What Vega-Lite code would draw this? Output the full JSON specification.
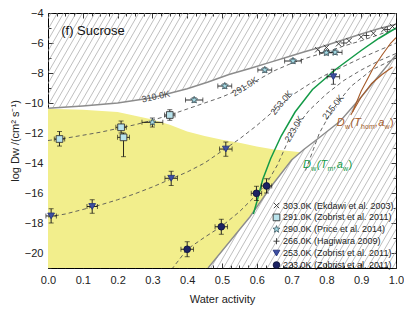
{
  "$schema": "https://vega.github.io/schema/vega-lite/v6.json",
  "width": 348,
  "height": 255,
  "autosize": {"type": "none"},
  "padding": {"left": 48, "top": 13, "right": 8, "bottom": 41},
  "background": "white",
  "config": {
    "view": {"stroke": "#000", "strokeWidth": 1},
    "font": "Liberation Sans",
    "axis": {"domain": false, "grid": false, "tickColor": "#222", "tickWidth": 0.9, "labelColor": "#222", "titleColor": "#222", "labelFont": "Liberation Sans", "titleFont": "Liberation Sans", "labelFontSize": 11, "titleFontSize": 11, "titleFontWeight": "normal", "labelFlush": false, "labelOverlap": false, "zindex": 1}
  },
  "resolve": {"axis": {"x": "independent", "y": "independent"}},
  "datasets": {
    "hatch": [
      {"a": -0.432, "b": -0.009}, {"a": -0.414, "b": 0.009}, {"a": -0.396, "b": 0.027}, {"a": -0.378, "b": 0.045}, {"a": -0.36, "b": 0.063}, {"a": -0.342, "b": 0.081}, {"a": -0.324, "b": 0.099}, {"a": -0.306, "b": 0.117}, {"a": -0.288, "b": 0.135}, {"a": -0.27, "b": 0.153},
      {"a": -0.252, "b": 0.171}, {"a": -0.234, "b": 0.189}, {"a": -0.216, "b": 0.207}, {"a": -0.198, "b": 0.225}, {"a": -0.18, "b": 0.243}, {"a": -0.162, "b": 0.261}, {"a": -0.144, "b": 0.279}, {"a": -0.126, "b": 0.297}, {"a": -0.108, "b": 0.315}, {"a": -0.09, "b": 0.333},
      {"a": -0.072, "b": 0.351}, {"a": -0.054, "b": 0.369}, {"a": -0.036, "b": 0.387}, {"a": -0.018, "b": 0.405}, {"a": 0.0, "b": 0.423}, {"a": 0.018, "b": 0.441}, {"a": 0.036, "b": 0.459}, {"a": 0.054, "b": 0.477}, {"a": 0.072, "b": 0.495}, {"a": 0.09, "b": 0.513},
      {"a": 0.108, "b": 0.531}, {"a": 0.126, "b": 0.549}, {"a": 0.144, "b": 0.567}, {"a": 0.162, "b": 0.585}, {"a": 0.18, "b": 0.603}, {"a": 0.198, "b": 0.621}, {"a": 0.216, "b": 0.639}, {"a": 0.234, "b": 0.657}, {"a": 0.252, "b": 0.675}, {"a": 0.27, "b": 0.693},
      {"a": 0.288, "b": 0.711}, {"a": 0.306, "b": 0.729}, {"a": 0.324, "b": 0.747}, {"a": 0.342, "b": 0.765}, {"a": 0.36, "b": 0.783}, {"a": 0.378, "b": 0.801}, {"a": 0.396, "b": 0.819}, {"a": 0.414, "b": 0.837}, {"a": 0.432, "b": 0.855}, {"a": 0.45, "b": 0.873},
      {"a": 0.468, "b": 0.891}, {"a": 0.486, "b": 0.909}, {"a": 0.504, "b": 0.927}, {"a": 0.522, "b": 0.945}, {"a": 0.54, "b": 0.963}, {"a": 0.558, "b": 0.981}, {"a": 0.576, "b": 0.999}, {"a": 0.594, "b": 1.017}, {"a": 0.612, "b": 1.035}, {"a": 0.63, "b": 1.053},
      {"a": 0.648, "b": 1.071}, {"a": 0.666, "b": 1.089}, {"a": 0.684, "b": 1.107}, {"a": 0.702, "b": 1.125}, {"a": 0.72, "b": 1.143}, {"a": 0.738, "b": 1.161}, {"a": 0.756, "b": 1.179}, {"a": 0.774, "b": 1.197}, {"a": 0.792, "b": 1.215}, {"a": 0.81, "b": 1.233},
      {"a": 0.828, "b": 1.251}, {"a": 0.846, "b": 1.269}, {"a": 0.864, "b": 1.287}, {"a": 0.882, "b": 1.305}, {"a": 0.9, "b": 1.323}, {"a": 0.918, "b": 1.341}, {"a": 0.936, "b": 1.359}, {"a": 0.954, "b": 1.377}, {"a": 0.972, "b": 1.395}, {"a": 0.99, "b": 1.413}
    ],
    "white": [
      {"x": 0, "u": -10.35, "l": -21}, {"x": 0.1, "u": -10.2, "l": -21}, {"x": 0.2, "u": -10.0, "l": -21}, {"x": 0.3, "u": -9.65, "l": -21}, {"x": 0.4, "u": -9.05, "l": -21}, {"x": 0.46, "u": -8.6, "l": -21},
      {"x": 0.52, "u": -8.1, "l": -19.3}, {"x": 0.58, "u": -7.7, "l": -17.6}, {"x": 0.64, "u": -7.27, "l": -15.6}, {"x": 0.7, "u": -6.85, "l": -13.8}, {"x": 0.735, "u": -6.6, "l": -13.1}, {"x": 0.78, "u": -6.3, "l": -12.3},
      {"x": 0.84, "u": -5.85, "l": -11.2}, {"x": 0.9, "u": -5.4, "l": -9.6}, {"x": 0.95, "u": -5.05, "l": -8.2}, {"x": 1.0, "u": -4.75, "l": -6.8}
    ],
    "yellow": [
      {"x": 0, "t": -10.38, "b": -21}, {"x": 0.1, "t": -10.45, "b": -21}, {"x": 0.2, "t": -10.6, "b": -21}, {"x": 0.25, "t": -10.85, "b": -21}, {"x": 0.3, "t": -11.1, "b": -21}, {"x": 0.35, "t": -11.45, "b": -21},
      {"x": 0.4, "t": -11.9, "b": -21}, {"x": 0.45, "t": -12.2, "b": -21}, {"x": 0.46, "t": -12.25, "b": -21}, {"x": 0.5, "t": -12.45, "b": -19.87}, {"x": 0.55, "t": -12.65, "b": -18.45}, {"x": 0.6, "t": -12.9, "b": -16.93},
      {"x": 0.65, "t": -13.1, "b": -15.3}, {"x": 0.7, "t": -13.22, "b": -13.8}, {"x": 0.726, "t": -13.28, "b": -13.28}
    ],
    "curves": [
      {"c": "up", "x": 0, "y": -10.35}, {"c": "up", "x": 0.1, "y": -10.2}, {"c": "up", "x": 0.2, "y": -10.0}, {"c": "up", "x": 0.3, "y": -9.65}, {"c": "up", "x": 0.4, "y": -9.05}, {"c": "up", "x": 0.46, "y": -8.6}, {"c": "up", "x": 0.52, "y": -8.1}, {"c": "up", "x": 0.58, "y": -7.7}, {"c": "up", "x": 0.64, "y": -7.27}, {"c": "up", "x": 0.7, "y": -6.85}, {"c": "up", "x": 0.735, "y": -6.6}, {"c": "up", "x": 0.78, "y": -6.3}, {"c": "up", "x": 0.84, "y": -5.85}, {"c": "up", "x": 0.9, "y": -5.4}, {"c": "up", "x": 0.95, "y": -5.05}, {"c": "up", "x": 1.0, "y": -4.75},
      {"c": "lo", "x": 0.46, "y": -21}, {"c": "lo", "x": 0.52, "y": -19.3}, {"c": "lo", "x": 0.58, "y": -17.6}, {"c": "lo", "x": 0.64, "y": -15.6}, {"c": "lo", "x": 0.7, "y": -13.8}, {"c": "lo", "x": 0.735, "y": -13.1}, {"c": "lo", "x": 0.78, "y": -12.3}, {"c": "lo", "x": 0.84, "y": -11.2}, {"c": "lo", "x": 0.9, "y": -9.6}, {"c": "lo", "x": 0.95, "y": -8.2}, {"c": "lo", "x": 1.0, "y": -6.8},
      {"c": "k291", "x": 0, "y": -12.5}, {"c": "k291", "x": 0.05, "y": -12.35}, {"c": "k291", "x": 0.1, "y": -12.15}, {"c": "k291", "x": 0.15, "y": -11.95}, {"c": "k291", "x": 0.2, "y": -11.7}, {"c": "k291", "x": 0.25, "y": -11.45}, {"c": "k291", "x": 0.3, "y": -11.15}, {"c": "k291", "x": 0.35, "y": -10.8}, {"c": "k291", "x": 0.4, "y": -10.4}, {"c": "k291", "x": 0.45, "y": -10.0}, {"c": "k291", "x": 0.5, "y": -9.6}, {"c": "k291", "x": 0.55, "y": -9.1}, {"c": "k291", "x": 0.6, "y": -8.5}, {"c": "k291", "x": 0.65, "y": -7.85}, {"c": "k291", "x": 0.7, "y": -7.35}, {"c": "k291", "x": 0.75, "y": -6.95}, {"c": "k291", "x": 0.8, "y": -6.6}, {"c": "k291", "x": 0.85, "y": -6.2}, {"c": "k291", "x": 0.9, "y": -5.85}, {"c": "k291", "x": 0.95, "y": -5.45}, {"c": "k291", "x": 1.0, "y": -5.05},
      {"c": "k253", "x": 0, "y": -17.6}, {"c": "k253", "x": 0.05, "y": -17.4}, {"c": "k253", "x": 0.1, "y": -17.1}, {"c": "k253", "x": 0.15, "y": -16.8}, {"c": "k253", "x": 0.2, "y": -16.45}, {"c": "k253", "x": 0.25, "y": -16.05}, {"c": "k253", "x": 0.3, "y": -15.6}, {"c": "k253", "x": 0.35, "y": -15.1}, {"c": "k253", "x": 0.4, "y": -14.6}, {"c": "k253", "x": 0.45, "y": -14.0}, {"c": "k253", "x": 0.5, "y": -13.2}, {"c": "k253", "x": 0.55, "y": -12.4}, {"c": "k253", "x": 0.6, "y": -11.5}, {"c": "k253", "x": 0.65, "y": -10.5}, {"c": "k253", "x": 0.7, "y": -9.5}, {"c": "k253", "x": 0.75, "y": -8.75}, {"c": "k253", "x": 0.8, "y": -8.1}, {"c": "k253", "x": 0.85, "y": -7.55}, {"c": "k253", "x": 0.9, "y": -7.0}, {"c": "k253", "x": 0.95, "y": -6.5}, {"c": "k253", "x": 1.0, "y": -6.0},
      {"c": "k223", "x": 0.355, "y": -21.1}, {"c": "k223", "x": 0.4, "y": -19.75}, {"c": "k223", "x": 0.45, "y": -18.95}, {"c": "k223", "x": 0.5, "y": -18.2}, {"c": "k223", "x": 0.55, "y": -17.25}, {"c": "k223", "x": 0.6, "y": -16.1}, {"c": "k223", "x": 0.63, "y": -15.3}, {"c": "k223", "x": 0.66, "y": -14.1}, {"c": "k223", "x": 0.7, "y": -12.0}, {"c": "k223", "x": 0.75, "y": -10.5}, {"c": "k223", "x": 0.8, "y": -9.4}, {"c": "k223", "x": 0.85, "y": -8.5}, {"c": "k223", "x": 0.9, "y": -7.8}, {"c": "k223", "x": 0.95, "y": -7.2}, {"c": "k223", "x": 1.0, "y": -6.7},
      {"c": "k215", "x": 0.74, "y": -14.5}, {"c": "k215", "x": 0.78, "y": -12.0}, {"c": "k215", "x": 0.818, "y": -10.4}, {"c": "k215", "x": 0.87, "y": -8.9}, {"c": "k215", "x": 0.93, "y": -7.8}, {"c": "k215", "x": 1.0, "y": -7.0},
      {"c": "green", "x": 0.59, "y": -17.4}, {"c": "green", "x": 0.6, "y": -16.6}, {"c": "green", "x": 0.617, "y": -15.1}, {"c": "green", "x": 0.64, "y": -13.7}, {"c": "green", "x": 0.67, "y": -12.2}, {"c": "green", "x": 0.71, "y": -10.6}, {"c": "green", "x": 0.76, "y": -9.1}, {"c": "green", "x": 0.83, "y": -7.7}, {"c": "green", "x": 0.9, "y": -6.5}, {"c": "green", "x": 0.95, "y": -5.7}, {"c": "green", "x": 1.0, "y": -5.0},
      {"c": "br1", "x": 0.87, "y": -10.8}, {"c": "br1", "x": 0.9, "y": -9.6}, {"c": "br1", "x": 0.93, "y": -8.7}, {"c": "br1", "x": 0.96, "y": -8.1}, {"c": "br1", "x": 0.99, "y": -7.6},
      {"c": "br2", "x": 0.875, "y": -10.6}, {"c": "br2", "x": 0.9, "y": -9.2}, {"c": "br2", "x": 0.934, "y": -7.7}, {"c": "br2", "x": 0.96, "y": -6.8}, {"c": "br2", "x": 0.985, "y": -6.0}, {"c": "br2", "x": 1.0, "y": -5.65}
    ],
    "pts": [
      {"s": "303.0K (Ekdawi et al. 2003)", "x": 0.775, "y": -6.45}, {"s": "303.0K (Ekdawi et al. 2003)", "x": 0.8, "y": -6.3}, {"s": "303.0K (Ekdawi et al. 2003)", "x": 0.835, "y": -6.05}, {"s": "303.0K (Ekdawi et al. 2003)", "x": 0.865, "y": -5.85}, {"s": "303.0K (Ekdawi et al. 2003)", "x": 0.9, "y": -5.6}, {"s": "303.0K (Ekdawi et al. 2003)", "x": 0.935, "y": -5.35}, {"s": "303.0K (Ekdawi et al. 2003)", "x": 0.965, "y": -5.1}, {"s": "303.0K (Ekdawi et al. 2003)", "x": 0.99, "y": -4.9},
      {"s": "291.0K (Zobrist et al. 2011)", "x": 0.033, "y": -12.4, "xl": 0.018, "xh": 0.048, "yl": -12.87, "yh": -11.9},
      {"s": "291.0K (Zobrist et al. 2011)", "x": 0.21, "y": -11.62, "xl": 0.195, "xh": 0.225, "yl": -12.0, "yh": -11.2},
      {"s": "291.0K (Zobrist et al. 2011)", "x": 0.217, "y": -12.29, "xl": 0.2, "xh": 0.234, "yl": -13.58, "yh": -12.0},
      {"s": "291.0K (Zobrist et al. 2011)", "x": 0.35, "y": -10.8, "xl": 0.335, "xh": 0.365, "yl": -11.15, "yh": -10.45},
      {"s": "290.0K (Price et al. 2014)", "x": 0.3, "y": -11.29, "xl": 0.27, "xh": 0.33, "yl": -11.6, "yh": -11.0},
      {"s": "290.0K (Price et al. 2014)", "x": 0.42, "y": -9.8, "xl": 0.395, "xh": 0.445, "yl": -9.95, "yh": -9.65},
      {"s": "290.0K (Price et al. 2014)", "x": 0.508, "y": -8.87, "xl": 0.488, "xh": 0.528, "yl": -9.02, "yh": -8.72},
      {"s": "290.0K (Price et al. 2014)", "x": 0.623, "y": -7.8, "xl": 0.603, "xh": 0.643, "yl": -7.95, "yh": -7.65},
      {"s": "290.0K (Price et al. 2014)", "x": 0.704, "y": -7.2, "xl": 0.68, "xh": 0.728, "yl": -7.35, "yh": -7.05},
      {"s": "290.0K (Price et al. 2014)", "x": 0.8, "y": -6.65, "xl": 0.78, "xh": 0.82, "yl": -6.8, "yh": -6.5},
      {"s": "290.0K (Price et al. 2014)", "x": 0.825, "y": -6.62, "xl": 0.805, "xh": 0.845, "yl": -6.77, "yh": -6.47},
      {"s": "266.0K (Hagiwara 2009)", "x": 0.85, "y": -6.0}, {"s": "266.0K (Hagiwara 2009)", "x": 0.915, "y": -5.5}, {"s": "266.0K (Hagiwara 2009)", "x": 0.975, "y": -5.1},
      {"s": "253.0K (Zobrist et al. 2011)", "x": 0.009, "y": -17.53, "xl": -0.006, "xh": 0.024, "yl": -18.0, "yh": -17.05},
      {"s": "253.0K (Zobrist et al. 2011)", "x": 0.127, "y": -16.9, "xl": 0.112, "xh": 0.142, "yl": -17.35, "yh": -16.45},
      {"s": "253.0K (Zobrist et al. 2011)", "x": 0.354, "y": -15.02, "xl": 0.336, "xh": 0.372, "yl": -15.5, "yh": -14.55},
      {"s": "253.0K (Zobrist et al. 2011)", "x": 0.511, "y": -13.07, "xl": 0.493, "xh": 0.529, "yl": -13.55, "yh": -12.6},
      {"s": "253.0K (Zobrist et al. 2011)", "x": 0.82, "y": -8.25, "xl": 0.802, "xh": 0.838, "yl": -8.75, "yh": -7.75},
      {"s": "223.0K (Zobrist et al. 2011)", "x": 0.4, "y": -19.75, "xl": 0.382, "xh": 0.418, "yl": -20.25, "yh": -19.25},
      {"s": "223.0K (Zobrist et al. 2011)", "x": 0.498, "y": -18.25, "xl": 0.48, "xh": 0.516, "yl": -18.75, "yh": -17.75},
      {"s": "223.0K (Zobrist et al. 2011)", "x": 0.599, "y": -16.02, "xl": 0.584, "xh": 0.614, "yl": -16.5, "yh": -15.55},
      {"s": "223.0K (Zobrist et al. 2011)", "x": 0.628, "y": -15.53, "xl": 0.613, "xh": 0.643, "yl": -16.0, "yh": -15.05}
    ],
    "green": [{"x": 0.7328, "y": -14.33}],
    "brown": [{"x": 0.8296, "y": -11.53}]
  },
  "layer": [
    {
      "data": {"name": "hatch"},
      "mark": {"type": "rule", "clip": true, "stroke": "#a3a3a3", "strokeWidth": 0.7},
      "encoding": {
        "x": {"field": "a", "type": "quantitative", "scale": {"domain": [0, 1], "nice": false, "zero": false}, "axis": null},
        "x2": {"field": "b"},
        "y": {"datum": -21, "type": "quantitative", "scale": {"domain": [-21, -4], "nice": false, "zero": false}, "axis": null},
        "y2": {"datum": -4}
      }
    },
    {
      "data": {"name": "white"},
      "mark": {"type": "area", "clip": true, "fill": "white"},
      "encoding": {
        "x": {"field": "x", "type": "quantitative", "scale": {"domain": [0, 1], "nice": false, "zero": false},
          "axis": {"orient": "bottom", "values": [0, 0.1, 0.2, 0.3, 0.4, 0.5, 0.6, 0.7, 0.8, 0.9, 1], "format": ".1f", "tickSize": -5, "labelPadding": 11, "title": "Water activity", "titlePadding": 8}},
        "y": {"field": "u", "type": "quantitative", "scale": {"domain": [-21, -4], "nice": false, "zero": false},
          "axis": {"orient": "left", "values": [-20, -18, -16, -14, -12, -10, -8, -6, -4], "format": "d", "tickSize": -5, "labelPadding": 10, "title": "log Dw /(cm² s⁻¹)", "titlePadding": 4}},
        "y2": {"field": "l"}
      }
    },
    {
      "data": {"name": "yellow"},
      "mark": {"type": "area", "clip": true, "fill": "#f2ee8c"},
      "encoding": {
        "x": {"field": "x", "type": "quantitative", "scale": {"domain": [0, 1], "nice": false, "zero": false},
          "axis": {"orient": "top", "values": [0, 0.1, 0.2, 0.3, 0.4, 0.5, 0.6, 0.7, 0.8, 0.9, 1], "tickSize": -5, "labels": false, "title": null}},
        "y": {"field": "t", "type": "quantitative", "scale": {"domain": [-21, -4], "nice": false, "zero": false},
          "axis": {"orient": "right", "values": [-20, -18, -16, -14, -12, -10, -8, -6, -4], "tickSize": -5, "labels": false, "title": null}},
        "y2": {"field": "b"}
      }
    },
    {
      "data": {"name": "curves"},
      "transform": [{"filter": "datum.c == 'up' || datum.c == 'lo'"}],
      "mark": {"type": "line", "clip": true, "stroke": "#8c8c8c", "strokeWidth": 1.4},
      "encoding": {
        "x": {"field": "x", "type": "quantitative", "scale": {"domain": [0, 1], "nice": false, "zero": false},
          "axis": {"orient": "bottom", "values": [0.025, 0.05, 0.075, 0.125, 0.15, 0.175, 0.225, 0.25, 0.275, 0.325, 0.35, 0.375, 0.425, 0.45, 0.475, 0.525, 0.55, 0.575, 0.625, 0.65, 0.675, 0.725, 0.75, 0.775, 0.825, 0.85, 0.875, 0.925, 0.95, 0.975], "tickSize": -3, "labels": false, "title": null}},
        "y": {"field": "y", "type": "quantitative", "scale": {"domain": [-21, -4], "nice": false, "zero": false},
          "axis": {"orient": "left", "values": [-21, -19, -17, -15, -13, -11, -9, -7, -5], "tickSize": -3, "labels": false, "title": null}},
        "detail": {"field": "c"}
      }
    },
    {
      "data": {"name": "curves"},
      "transform": [{"filter": "datum.c == 'k291' || datum.c == 'k253' || datum.c == 'k223' || datum.c == 'k215'"}],
      "mark": {"type": "line", "clip": true, "stroke": "#555", "strokeWidth": 0.9, "strokeDash": [4, 3]},
      "encoding": {
        "x": {"field": "x", "type": "quantitative", "scale": {"domain": [0, 1], "nice": false, "zero": false},
          "axis": {"orient": "top", "values": [0.025, 0.05, 0.075, 0.125, 0.15, 0.175, 0.225, 0.25, 0.275, 0.325, 0.35, 0.375, 0.425, 0.45, 0.475, 0.525, 0.55, 0.575, 0.625, 0.65, 0.675, 0.725, 0.75, 0.775, 0.825, 0.85, 0.875, 0.925, 0.95, 0.975], "tickSize": -3, "labels": false, "title": null}},
        "y": {"field": "y", "type": "quantitative", "scale": {"domain": [-21, -4], "nice": false, "zero": false},
          "axis": {"orient": "right", "values": [-21, -19, -17, -15, -13, -11, -9, -7, -5], "tickSize": -3, "labels": false, "title": null}},
        "detail": {"field": "c"}
      }
    },
    {
      "data": {"name": "curves"},
      "transform": [{"filter": "datum.c == 'green'"}],
      "mark": {"type": "line", "clip": true, "stroke": "#139a47", "strokeWidth": 1.5},
      "encoding": {
        "x": {"field": "x", "type": "quantitative", "scale": {"domain": [0, 1], "nice": false, "zero": false}, "axis": null},
        "y": {"field": "y", "type": "quantitative", "scale": {"domain": [-21, -4], "nice": false, "zero": false}, "axis": null}
      }
    },
    {
      "data": {"name": "curves"},
      "transform": [{"filter": "datum.c == 'br1' || datum.c == 'br2'"}],
      "mark": {"type": "line", "clip": true, "stroke": "#a65a28", "strokeWidth": 1.1},
      "encoding": {
        "x": {"field": "x", "type": "quantitative", "scale": {"domain": [0, 1], "nice": false, "zero": false}, "axis": null},
        "y": {"field": "y", "type": "quantitative", "scale": {"domain": [-21, -4], "nice": false, "zero": false}, "axis": null},
        "detail": {"field": "c"}
      }
    },
    {
      "data": {"name": "pts"},
      "transform": [{"filter": "isValid(datum.xl)"}],
      "mark": {"type": "errorbar", "ticks": {"size": 5, "thickness": 0.9, "color": "#111"}, "rule": {"strokeWidth": 0.9, "color": "#111"}},
      "encoding": {
        "x": {"field": "xl", "type": "quantitative", "scale": {"domain": [0, 1], "nice": false, "zero": false}, "axis": null},
        "x2": {"field": "xh"},
        "y": {"field": "y", "type": "quantitative", "scale": {"domain": [-21, -4], "nice": false, "zero": false}, "axis": null}
      }
    },
    {
      "data": {"name": "pts"},
      "transform": [{"filter": "isValid(datum.xl)"}],
      "mark": {"type": "errorbar", "ticks": {"size": 5, "thickness": 0.9, "color": "#111"}, "rule": {"strokeWidth": 0.9, "color": "#111"}},
      "encoding": {
        "y": {"field": "yl", "type": "quantitative", "scale": {"domain": [-21, -4], "nice": false, "zero": false}, "axis": null},
        "y2": {"field": "yh"},
        "x": {"field": "x", "type": "quantitative", "scale": {"domain": [0, 1], "nice": false, "zero": false}, "axis": null}
      }
    },
    {
      "data": {"name": "pts"},
      "mark": {"type": "point", "filled": true, "opacity": 1, "size": 45, "strokeWidth": 0.9},
      "encoding": {
        "x": {"field": "x", "type": "quantitative", "scale": {"domain": [0, 1], "nice": false, "zero": false}, "axis": null},
        "y": {"field": "y", "type": "quantitative", "scale": {"domain": [-21, -4], "nice": false, "zero": false}, "axis": null},
        "shape": {"field": "s", "type": "nominal",
          "scale": {"domain": ["303.0K (Ekdawi et al. 2003)", "291.0K (Zobrist et al. 2011)", "290.0K (Price et al. 2014)", "266.0K (Hagiwara 2009)", "253.0K (Zobrist et al. 2011)", "223.0K (Zobrist et al. 2011)"],
            "range": ["M-0.8,-0.8L0.8,0.8M-0.8,0.8L0.8,-0.8", "square", "M0,-1.1L0.26,-0.36L1.05,-0.34L0.42,0.14L0.65,0.89L0,0.44L-0.65,0.89L-0.42,0.14L-1.05,-0.34L-0.26,-0.36Z", "M-0.9,0L0.9,0M0,-0.9L0,0.9", "triangle-down", "circle"]},
          "legend": {"orient": "none", "legendX": 224, "legendY": 188, "title": null, "labelFontSize": 9, "labelFont": "Liberation Sans", "labelColor": "#222", "symbolSize": 45, "rowPadding": 0.9, "labelOffset": 2, "padding": 0, "symbolStrokeWidth": 0.9, "symbolOpacity": 1}},
        "fill": {"field": "s", "type": "nominal",
          "scale": {"domain": ["303.0K (Ekdawi et al. 2003)", "291.0K (Zobrist et al. 2011)", "290.0K (Price et al. 2014)", "266.0K (Hagiwara 2009)", "253.0K (Zobrist et al. 2011)", "223.0K (Zobrist et al. 2011)"],
            "range": ["transparent", "#b9e3ec", "#a6dce6", "transparent", "#3d4fa3", "#1c2263"]}},
        "stroke": {"field": "s", "type": "nominal",
          "scale": {"domain": ["303.0K (Ekdawi et al. 2003)", "291.0K (Zobrist et al. 2011)", "290.0K (Price et al. 2014)", "266.0K (Hagiwara 2009)", "253.0K (Zobrist et al. 2011)", "223.0K (Zobrist et al. 2011)"],
            "range": ["#333333", "#333333", "#4a6670", "#333333", "#27347c", "#10143d"]}}
      }
    },
    {
      "data": {"values": [{"x": 0.038, "y": -5.45, "t": "(f) Sucrose"}]},
      "mark": {"type": "text", "align": "left", "baseline": "alphabetic", "fontSize": 13, "fill": "#111"},
      "encoding": {
        "x": {"field": "x", "type": "quantitative", "scale": {"domain": [0, 1], "nice": false, "zero": false}, "axis": null},
        "y": {"field": "y", "type": "quantitative", "scale": {"domain": [-21, -4], "nice": false, "zero": false}, "axis": null},
        "text": {"field": "t"}
      }
    },
    {
      "data": {"values": [{"x": 0.31, "y": -9.57, "t": "310.0K"}]},
      "mark": {"type": "text", "align": "center", "baseline": "middle", "fontSize": 9, "fill": "#444", "angle": -12},
      "encoding": {
        "x": {"field": "x", "type": "quantitative", "scale": {"domain": [0, 1], "nice": false, "zero": false}, "axis": null},
        "y": {"field": "y", "type": "quantitative", "scale": {"domain": [-21, -4], "nice": false, "zero": false}, "axis": null},
        "text": {"field": "t"}
      }
    },
    {
      "data": {"values": [{"x": 0.566, "y": -8.91, "t": "291.0K"}]},
      "mark": {"type": "text", "align": "center", "baseline": "middle", "fontSize": 9, "fill": "#444", "angle": -32},
      "encoding": {
        "x": {"field": "x", "type": "quantitative", "scale": {"domain": [0, 1], "nice": false, "zero": false}, "axis": null},
        "y": {"field": "y", "type": "quantitative", "scale": {"domain": [-21, -4], "nice": false, "zero": false}, "axis": null},
        "text": {"field": "t"}
      }
    },
    {
      "data": {"values": [{"x": 0.671, "y": -9.97, "t": "253.0K"}]},
      "mark": {"type": "text", "align": "center", "baseline": "middle", "fontSize": 9, "fill": "#444", "angle": -50},
      "encoding": {
        "x": {"field": "x", "type": "quantitative", "scale": {"domain": [0, 1], "nice": false, "zero": false}, "axis": null},
        "y": {"field": "y", "type": "quantitative", "scale": {"domain": [-21, -4], "nice": false, "zero": false}, "axis": null},
        "text": {"field": "t"}
      }
    },
    {
      "data": {"values": [{"x": 0.707, "y": -11.73, "t": "223.0K"}]},
      "mark": {"type": "text", "align": "center", "baseline": "middle", "fontSize": 9, "fill": "#444", "angle": -60},
      "encoding": {
        "x": {"field": "x", "type": "quantitative", "scale": {"domain": [0, 1], "nice": false, "zero": false}, "axis": null},
        "y": {"field": "y", "type": "quantitative", "scale": {"domain": [-21, -4], "nice": false, "zero": false}, "axis": null},
        "text": {"field": "t"}
      }
    },
    {
      "data": {"values": [{"x": 0.819, "y": -10.27, "t": "215.0K"}]},
      "mark": {"type": "text", "align": "center", "baseline": "middle", "fontSize": 9, "fill": "#444", "angle": -52},
      "encoding": {
        "x": {"field": "x", "type": "quantitative", "scale": {"domain": [0, 1], "nice": false, "zero": false}, "axis": null},
        "y": {"field": "y", "type": "quantitative", "scale": {"domain": [-21, -4], "nice": false, "zero": false}, "axis": null},
        "text": {"field": "t"}
      }
    },
    {"data": {"name": "green"}, "mark": {"type": "text", "align": "left", "baseline": "alphabetic", "fontSize": 11, "fontStyle": "italic", "fill": "#139a47", "text": "D", "dx": 0},
      "encoding": {"x": {"field": "x", "type": "quantitative", "scale": {"domain": [0, 1], "nice": false, "zero": false}, "axis": null}, "y": {"field": "y", "type": "quantitative", "scale": {"domain": [-21, -4], "nice": false, "zero": false}, "axis": null}}},
    {"data": {"name": "green"}, "mark": {"type": "text", "align": "left", "baseline": "alphabetic", "fontSize": 7, "fill": "#139a47", "text": "w", "dx": 8.2, "dy": 3},
      "encoding": {"x": {"field": "x", "type": "quantitative", "scale": {"domain": [0, 1], "nice": false, "zero": false}, "axis": null}, "y": {"field": "y", "type": "quantitative", "scale": {"domain": [-21, -4], "nice": false, "zero": false}, "axis": null}}},
    {"data": {"name": "green"}, "mark": {"type": "text", "align": "left", "baseline": "alphabetic", "fontSize": 11, "fontStyle": "italic", "fill": "#139a47", "text": "(T", "dx": 13.8},
      "encoding": {"x": {"field": "x", "type": "quantitative", "scale": {"domain": [0, 1], "nice": false, "zero": false}, "axis": null}, "y": {"field": "y", "type": "quantitative", "scale": {"domain": [-21, -4], "nice": false, "zero": false}, "axis": null}}},
    {"data": {"name": "green"}, "mark": {"type": "text", "align": "left", "baseline": "alphabetic", "fontSize": 7, "fill": "#139a47", "text": "m", "dx": 24.4, "dy": 3},
      "encoding": {"x": {"field": "x", "type": "quantitative", "scale": {"domain": [0, 1], "nice": false, "zero": false}, "axis": null}, "y": {"field": "y", "type": "quantitative", "scale": {"domain": [-21, -4], "nice": false, "zero": false}, "axis": null}}},
    {"data": {"name": "green"}, "mark": {"type": "text", "align": "left", "baseline": "alphabetic", "fontSize": 11, "fontStyle": "italic", "fill": "#139a47", "text": ",a", "dx": 30.6},
      "encoding": {"x": {"field": "x", "type": "quantitative", "scale": {"domain": [0, 1], "nice": false, "zero": false}, "axis": null}, "y": {"field": "y", "type": "quantitative", "scale": {"domain": [-21, -4], "nice": false, "zero": false}, "axis": null}}},
    {"data": {"name": "green"}, "mark": {"type": "text", "align": "left", "baseline": "alphabetic", "fontSize": 7, "fill": "#139a47", "text": "w", "dx": 40, "dy": 3},
      "encoding": {"x": {"field": "x", "type": "quantitative", "scale": {"domain": [0, 1], "nice": false, "zero": false}, "axis": null}, "y": {"field": "y", "type": "quantitative", "scale": {"domain": [-21, -4], "nice": false, "zero": false}, "axis": null}}},
    {"data": {"name": "green"}, "mark": {"type": "text", "align": "left", "baseline": "alphabetic", "fontSize": 11, "fill": "#139a47", "text": ")", "dx": 45.5},
      "encoding": {"x": {"field": "x", "type": "quantitative", "scale": {"domain": [0, 1], "nice": false, "zero": false}, "axis": null}, "y": {"field": "y", "type": "quantitative", "scale": {"domain": [-21, -4], "nice": false, "zero": false}, "axis": null}}},
    {"data": {"name": "brown"}, "mark": {"type": "text", "align": "left", "baseline": "alphabetic", "fontSize": 11, "fontStyle": "italic", "fill": "#a65a28", "text": "D", "dx": 0},
      "encoding": {"x": {"field": "x", "type": "quantitative", "scale": {"domain": [0, 1], "nice": false, "zero": false}, "axis": null}, "y": {"field": "y", "type": "quantitative", "scale": {"domain": [-21, -4], "nice": false, "zero": false}, "axis": null}}},
    {"data": {"name": "brown"}, "mark": {"type": "text", "align": "left", "baseline": "alphabetic", "fontSize": 7, "fill": "#a65a28", "text": "w", "dx": 8.2, "dy": 3},
      "encoding": {"x": {"field": "x", "type": "quantitative", "scale": {"domain": [0, 1], "nice": false, "zero": false}, "axis": null}, "y": {"field": "y", "type": "quantitative", "scale": {"domain": [-21, -4], "nice": false, "zero": false}, "axis": null}}},
    {"data": {"name": "brown"}, "mark": {"type": "text", "align": "left", "baseline": "alphabetic", "fontSize": 11, "fontStyle": "italic", "fill": "#a65a28", "text": "(T", "dx": 13.8},
      "encoding": {"x": {"field": "x", "type": "quantitative", "scale": {"domain": [0, 1], "nice": false, "zero": false}, "axis": null}, "y": {"field": "y", "type": "quantitative", "scale": {"domain": [-21, -4], "nice": false, "zero": false}, "axis": null}}},
    {"data": {"name": "brown"}, "mark": {"type": "text", "align": "left", "baseline": "alphabetic", "fontSize": 7, "fill": "#a65a28", "text": "hom", "dx": 24.4, "dy": 3},
      "encoding": {"x": {"field": "x", "type": "quantitative", "scale": {"domain": [0, 1], "nice": false, "zero": false}, "axis": null}, "y": {"field": "y", "type": "quantitative", "scale": {"domain": [-21, -4], "nice": false, "zero": false}, "axis": null}}},
    {"data": {"name": "brown"}, "mark": {"type": "text", "align": "left", "baseline": "alphabetic", "fontSize": 11, "fontStyle": "italic", "fill": "#a65a28", "text": ",a", "dx": 38.4},
      "encoding": {"x": {"field": "x", "type": "quantitative", "scale": {"domain": [0, 1], "nice": false, "zero": false}, "axis": null}, "y": {"field": "y", "type": "quantitative", "scale": {"domain": [-21, -4], "nice": false, "zero": false}, "axis": null}}},
    {"data": {"name": "brown"}, "mark": {"type": "text", "align": "left", "baseline": "alphabetic", "fontSize": 7, "fill": "#a65a28", "text": "w", "dx": 47.8, "dy": 3},
      "encoding": {"x": {"field": "x", "type": "quantitative", "scale": {"domain": [0, 1], "nice": false, "zero": false}, "axis": null}, "y": {"field": "y", "type": "quantitative", "scale": {"domain": [-21, -4], "nice": false, "zero": false}, "axis": null}}},
    {"data": {"name": "brown"}, "mark": {"type": "text", "align": "left", "baseline": "alphabetic", "fontSize": 11, "fill": "#a65a28", "text": ")", "dx": 53.3},
      "encoding": {"x": {"field": "x", "type": "quantitative", "scale": {"domain": [0, 1], "nice": false, "zero": false}, "axis": null}, "y": {"field": "y", "type": "quantitative", "scale": {"domain": [-21, -4], "nice": false, "zero": false}, "axis": null}}}
  ]
}
